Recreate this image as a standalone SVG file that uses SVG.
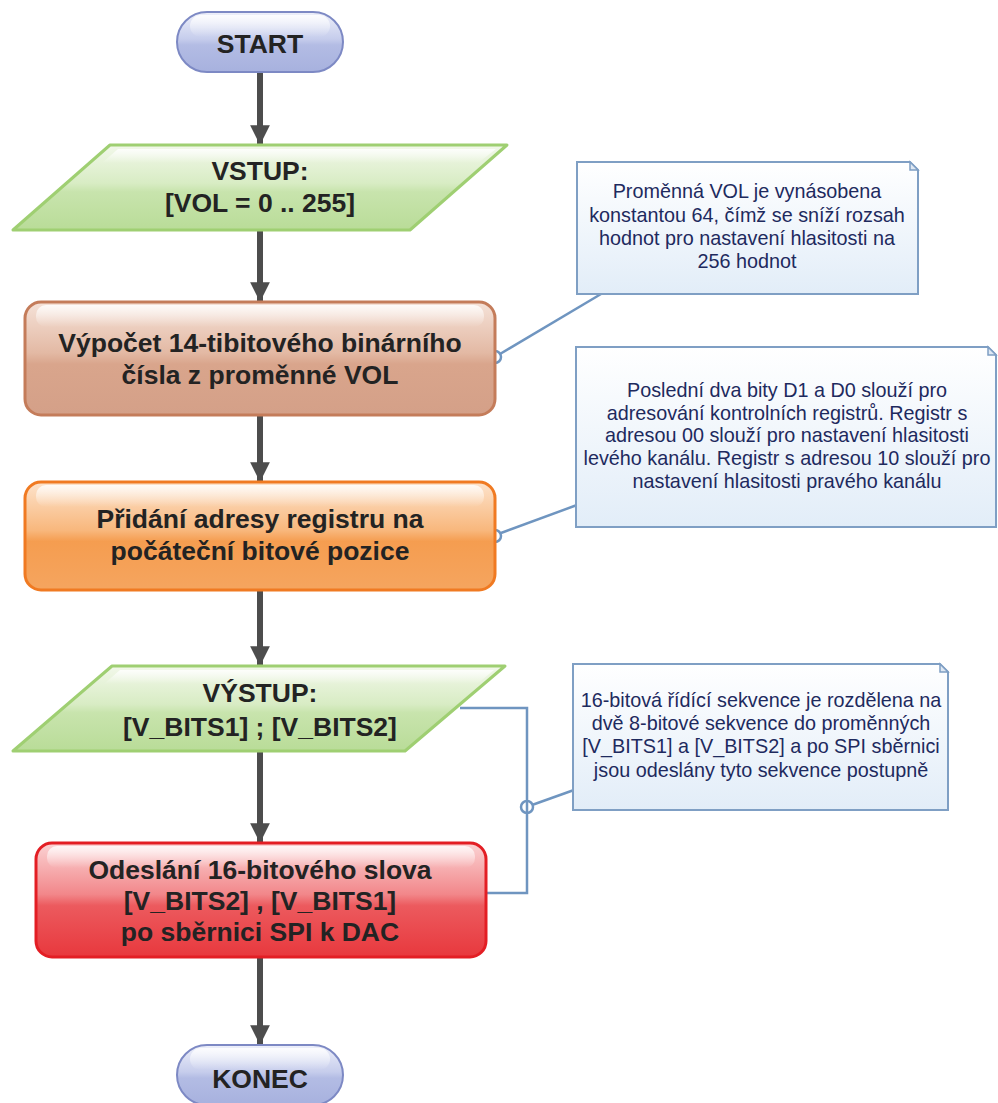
<svg xmlns="http://www.w3.org/2000/svg" width="998" height="1103" viewBox="0 0 998 1103">
<defs>
<linearGradient id="gPill" x1="0" y1="0" x2="0" y2="1">
<stop offset="0" stop-color="#eef0fa"/><stop offset="0.45" stop-color="#c6cdec"/><stop offset="0.55" stop-color="#b3bce4"/><stop offset="1" stop-color="#a7b1de"/>
</linearGradient>
<linearGradient id="gGreen" x1="0" y1="0" x2="0" y2="1">
<stop offset="0" stop-color="#f2f8ea"/><stop offset="0.45" stop-color="#d8ecc4"/><stop offset="0.55" stop-color="#c8e4ad"/><stop offset="1" stop-color="#b9dc98"/>
</linearGradient>
<linearGradient id="gBrown" x1="0" y1="0" x2="0" y2="1">
<stop offset="0" stop-color="#f5e2d8"/><stop offset="0.45" stop-color="#e3b9a4"/><stop offset="0.55" stop-color="#d9a58c"/><stop offset="1" stop-color="#d4a088"/>
</linearGradient>
<linearGradient id="gOrange" x1="0" y1="0" x2="0" y2="1">
<stop offset="0" stop-color="#fde3cc"/><stop offset="0.45" stop-color="#f8b77c"/><stop offset="0.55" stop-color="#f59d50"/><stop offset="1" stop-color="#f5a55f"/>
</linearGradient>
<linearGradient id="gRed" x1="0" y1="0" x2="0" y2="1">
<stop offset="0" stop-color="#fbd3d4"/><stop offset="0.45" stop-color="#f2878a"/><stop offset="0.55" stop-color="#ec5a5e"/><stop offset="1" stop-color="#e8383d"/>
</linearGradient>
<linearGradient id="gNote" x1="0" y1="0" x2="0" y2="1">
<stop offset="0" stop-color="#ffffff"/><stop offset="1" stop-color="#e2edf8"/>
</linearGradient>
<linearGradient id="gGloss" x1="0" y1="0" x2="0" y2="1">
<stop offset="0" stop-color="#ffffff" stop-opacity="0.85"/><stop offset="1" stop-color="#ffffff" stop-opacity="0"/>
</linearGradient>
<marker id="arr" viewBox="0 0 10 10" refX="10" refY="5" markerWidth="3.3" markerHeight="3.3" orient="auto" markerUnits="strokeWidth">
<path d="M0,0 L10,5 L0,10 Z" fill="#4d4d4d"/>
</marker>
</defs>
<style>
.flow{stroke:#4d4d4d;stroke-width:6;fill:none}
.link{stroke:#6f95c0;stroke-width:2.5;fill:none}
.dot{stroke:#6f95c0;stroke-width:2.5;fill:none}
.nt{font-family:"Liberation Sans",Arial,sans-serif;font-weight:bold;font-size:26.5px;fill:#232323;text-anchor:middle}
.ct{font-family:"Liberation Sans",Arial,sans-serif;font-size:19.8px;fill:#1e2a5e;text-anchor:middle}
.note{fill:url(#gNote);stroke:#7f9fc4;stroke-width:2}
.fold{fill:#dfe8f3;stroke:#7f9fc4;stroke-width:1.5}
</style>
<rect width="998" height="1103" fill="#ffffff"/>
<g id="connectors">
<line class="flow" x1="260" y1="72" x2="260" y2="145" marker-end="url(#arr)"/>
<line class="flow" x1="260" y1="230" x2="260" y2="302" marker-end="url(#arr)"/>
<line class="flow" x1="260" y1="415" x2="260" y2="482" marker-end="url(#arr)"/>
<line class="flow" x1="260" y1="590" x2="260" y2="666" marker-end="url(#arr)"/>
<line class="flow" x1="260" y1="751" x2="260" y2="843" marker-end="url(#arr)"/>
<line class="flow" x1="260" y1="957" x2="260" y2="1045" marker-end="url(#arr)"/>
<polyline class="link" points="460,708 527,708 527,893 487,893"/>
<line class="link" x1="601" y1="294" x2="500" y2="354"/>
<circle class="dot" cx="495" cy="357" r="6"/>
<line class="link" x1="577" y1="505" x2="501" y2="533"/>
<circle class="dot" cx="495" cy="536" r="6"/>
<line class="link" x1="574" y1="790" x2="532" y2="805"/>
<circle class="dot" cx="527" cy="807" r="6"/>
</g>
<g id="start">
<rect x="177" y="12" width="166" height="60" rx="30" fill="url(#gPill)" stroke="#7d89c4" stroke-width="2"/>
<rect x="190" y="15" width="140" height="22" rx="11" fill="url(#gGloss)"/>
<text class="nt" x="260" y="53" font-size="26">START</text>
</g>
<g id="vstup">
<path d="M110,145 L507,145 L410,230 L13,230 Z" fill="url(#gGreen)" stroke="#9fcf72" stroke-width="3" stroke-linejoin="round"/>
<path d="M118,149 L496,149 L478,163 L102,163 Z" fill="url(#gGloss)"/>
<text class="nt" x="260" y="180">VSTUP:</text>
<text class="nt" x="260" y="212">[VOL = 0 .. 255]</text>
</g>
<g id="calc">
<rect x="25" y="302" width="470" height="113" rx="16" fill="url(#gBrown)" stroke="#c47c5a" stroke-width="3"/>
<rect x="36" y="305" width="448" height="22" rx="10" fill="url(#gGloss)"/>
<text class="nt" x="260" y="352">Výpočet 14-tibitového binárního</text>
<text class="nt" x="260" y="384">čísla z proměnné VOL</text>
</g>
<g id="addr">
<rect x="25" y="482" width="470" height="108" rx="16" fill="url(#gOrange)" stroke="#f07a22" stroke-width="3"/>
<rect x="36" y="485" width="448" height="22" rx="10" fill="url(#gGloss)"/>
<text class="nt" x="260" y="528">Přidání adresy registru na</text>
<text class="nt" x="260" y="560">počáteční bitové pozice</text>
</g>
<g id="vystup">
<path d="M112,666 L505,666 L405,751 L13,751 Z" fill="url(#gGreen)" stroke="#9fcf72" stroke-width="3" stroke-linejoin="round"/>
<path d="M120,670 L494,670 L477,684 L104,684 Z" fill="url(#gGloss)"/>
<text class="nt" x="260" y="702">VÝSTUP:</text>
<text class="nt" x="260" y="736">[V_BITS1] ; [V_BITS2]</text>
</g>
<g id="send">
<rect x="36" y="843" width="450" height="114" rx="16" fill="url(#gRed)" stroke="#e31e24" stroke-width="3"/>
<rect x="47" y="846" width="428" height="22" rx="10" fill="url(#gGloss)"/>
<text class="nt" x="260" y="879">Odeslání 16-bitového slova</text>
<text class="nt" x="260" y="910">[V_BITS2] , [V_BITS1]</text>
<text class="nt" x="260" y="941">po sběrnici SPI k DAC</text>
</g>
<g id="konec">
<rect x="177" y="1045" width="166" height="60" rx="30" fill="url(#gPill)" stroke="#7d89c4" stroke-width="2"/>
<rect x="190" y="1048" width="140" height="22" rx="11" fill="url(#gGloss)"/>
<text class="nt" x="260" y="1088" font-size="26">KONEC</text>
</g>
<g id="note1">
<path class="note" d="M577,162 H910 L918,170 V294 H577 Z"/>
<path class="fold" d="M910,162 V170 H918 Z"/>
<text class="ct" x="747" y="198">Proměnná VOL je vynásobena</text>
<text class="ct" x="747" y="222">konstantou 64, čímž se sníží rozsah</text>
<text class="ct" x="747" y="245">hodnot pro nastavení hlasitosti na</text>
<text class="ct" x="747" y="268">256 hodnot</text>
</g>
<g id="note2">
<path class="note" d="M576,347 H988 L996,355 V527 H576 Z"/>
<path class="fold" d="M988,347 V355 H996 Z"/>
<text class="ct" x="787" y="397">Poslední dva bity D1 a D0 slouží pro</text>
<text class="ct" x="787" y="420">adresování kontrolních registrů. Registr s</text>
<text class="ct" x="787" y="442">adresou 00 slouží pro nastavení hlasitosti</text>
<text class="ct" x="787" y="465">levého kanálu. Registr s adresou 10 slouží pro</text>
<text class="ct" x="787" y="488">nastavení hlasitosti pravého kanálu</text>
</g>
<g id="note3">
<path class="note" d="M573,664 H940 L948,672 V810 H573 Z"/>
<path class="fold" d="M940,664 V672 H948 Z"/>
<text class="ct" x="761" y="707">16-bitová řídící sekvence je rozdělena na</text>
<text class="ct" x="761" y="730">dvě 8-bitové sekvence do proměnných</text>
<text class="ct" x="761" y="753">[V_BITS1] a [V_BITS2] a po SPI sběrnici</text>
<text class="ct" x="761" y="777">jsou odeslány tyto sekvence postupně</text>
</g>
</svg>
